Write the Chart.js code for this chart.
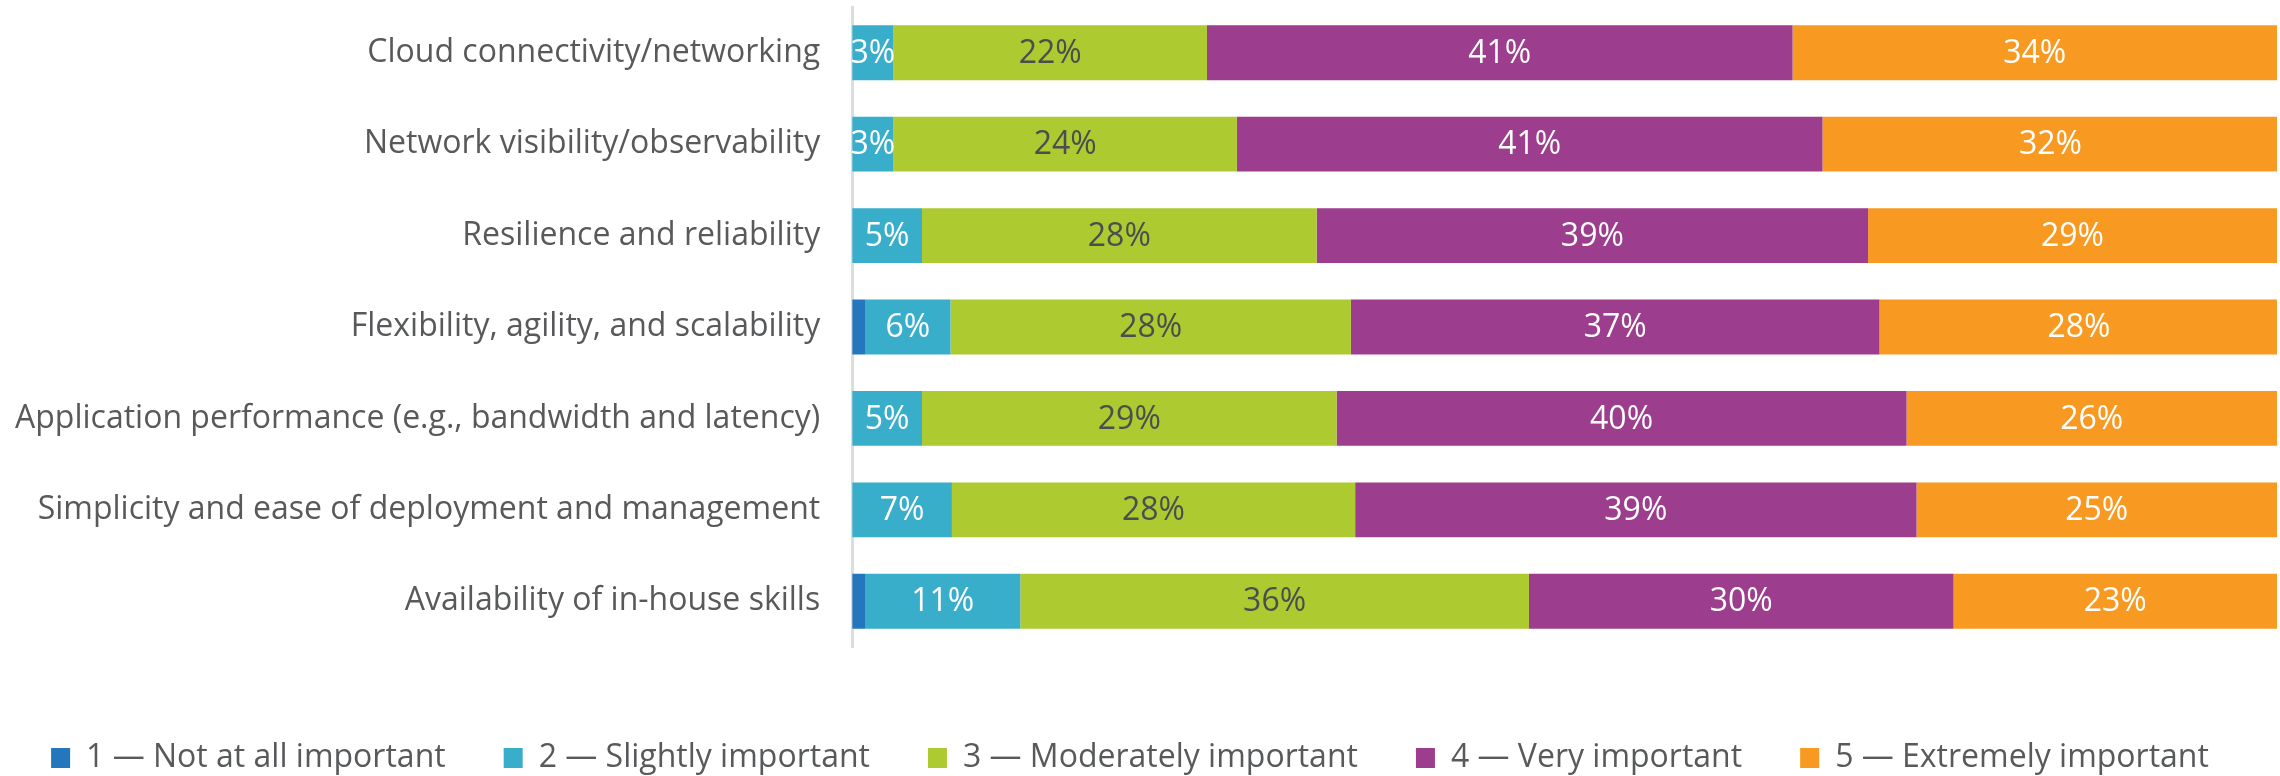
<!DOCTYPE html>
<html>
<head>
<meta charset="utf-8">
<script src="https://cdn.jsdelivr.net/npm/chart.js@4"></script>
<style>
  html, body { margin: 0; padding: 0; background: #fff; }
  #wrap { width: 2280px; height: 776px; }
</style>
</head>
<body>
<div id="wrap"><canvas id="chart" width="2280" height="776"></canvas></div>
<script>
const categories = [
  'Cloud connectivity/networking',
  'Network visibility/observability',
  'Resilience and reliability',
  'Flexibility, agility, and scalability',
  'Application performance (e.g., bandwidth and latency)',
  'Simplicity and ease of deployment and management',
  'Availability of in-house skills'
];

const seriesNames = [
  '1 \u2014 Not at all important',
  '2 \u2014 Slightly important',
  '3 \u2014 Moderately important',
  '4 \u2014 Very important',
  '5 \u2014 Extremely important'
];

const notAtAll   = [0,    0,    0,    0.9,  0,    0,    0.9];
const slightly   = [2.9,  2.9,  4.9,  6.0,  4.9,  7.0,  10.9];
const moderately = [22.0, 24.1, 27.7, 28.1, 29.1, 28.3, 35.7];
const very       = [41.1, 41.1, 38.7, 37.1, 40.0, 39.4, 29.8];
const extremely  = [34.0, 32.0, 28.7, 28.0, 26.0, 25.3, 22.7];

const colors = ['#2477BC', '#38AECB', '#ADCA31', '#9C3D8D', '#F89A21'];
const labelColors = ['#ffffff', '#ffffff', '#4D4D4F', '#ffffff', '#ffffff'];

const FONT = '"Open Sans", sans-serif';

// draws the percentage inside each segment
const segmentLabels = {
  id: 'segmentLabels',
  afterDatasetsDraw(chart) {
    const ctx = chart.ctx;
    ctx.save();
    ctx.font = '32px ' + FONT;
    ctx.textAlign = 'center';
    ctx.textBaseline = 'middle';
    chart.data.datasets.forEach((ds, i) => {
      const meta = chart.getDatasetMeta(i);
      meta.data.forEach((bar, j) => {
        const v = ds.data[j];
        if (v < 2) return;
        ctx.fillStyle = labelColors[i];
        ctx.fillText(Math.round(v) + '%', (bar.x + bar.base) / 2, bar.y + 1);
      });
    });
    ctx.restore();
  }
};

const allSeries = [notAtAll, slightly, moderately, very, extremely];

new Chart(document.getElementById('chart'), {
  type: 'bar',
  data: {
    labels: categories,
    datasets: allSeries.map((values, i) => ({
      label: seriesNames[i],
      data: values,
      backgroundColor: colors[i],
      borderWidth: 0,
      categoryPercentage: 0.6,
      barPercentage: 1.0
    }))
  },
  options: {
    indexAxis: 'y',
    responsive: false,
    animation: false,
    layout: { padding: { top: 7, right: 3, left: -17, bottom: -8 } },
    scales: {
      x: {
        stacked: true,
        min: 0,
        max: 100,
        ticks: { display: false },
        grid: { display: false },
        border: { display: false },
        afterFit(scale) { scale.height = 37; }
      },
      y: {
        stacked: true,
        grid: { display: false, drawTicks: false },
        border: { display: true, color: '#DDDDDD', width: 3 },
        ticks: {
          color: '#58595B',
          padding: 32,
          font: { family: FONT, size: 32 }
        },
        afterFit(scale) { scale.paddingTop = 0; scale.paddingBottom = 0; }
      }
    },
    plugins: {
      legend: {
        position: 'bottom',
        labels: {
          boxWidth: 19,
          boxHeight: 20,
          padding: 58,
          color: '#58595B',
          font: { family: FONT, size: 32 }
        }
      },
      tooltip: { enabled: false }
    }
  },
  plugins: [segmentLabels]
});
</script>
</body>
</html>
